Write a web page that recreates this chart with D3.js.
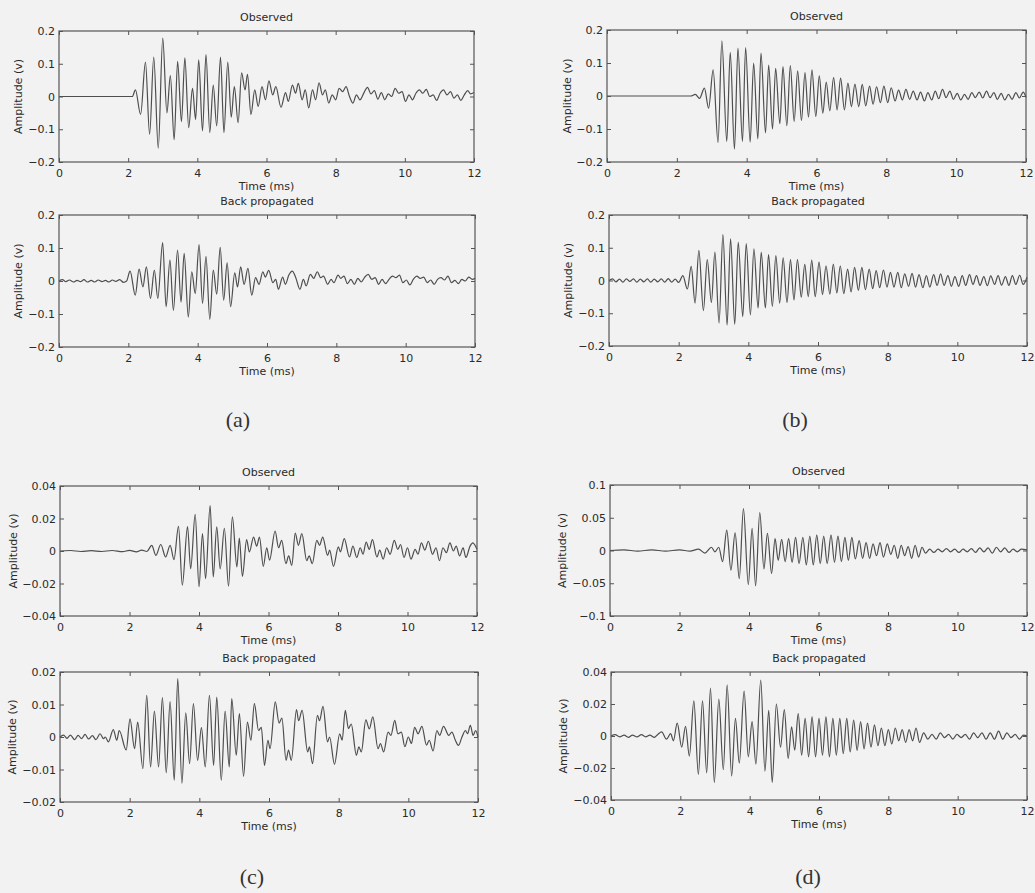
<!DOCTYPE html>
<html><head><meta charset="utf-8">
<script src="https://cdn.jsdelivr.net/npm/d3@7"></script>
<style>html,body{margin:0;padding:0;background:#f2f2f2;}svg{display:block;}</style>
</head><body>
<svg id="chart" width="1035" height="893"></svg>
<script>
// ---------------- DATA (extrema: [time ms, amplitude V]) ----------------
const timeTicks = [0, 2, 4, 6, 8, 10, 12];
const yTicksAB = [-0.2, -0.1, 0, 0.1, 0.2];
const yTicksCobs = [-0.04, -0.02, 0, 0.02, 0.04];
const yTicksCbp = [-0.02, -0.01, 0, 0.01, 0.02];
const yTicksDobs = [-0.1, -0.05, 0, 0.05, 0.1];
const yTicksDbp = [-0.04, -0.02, 0, 0.02, 0.04];
const subTitles = ["Observed", "Back propagated"];
const panelLabels = ["(a)", "(b)", "(c)", "(d)"];
const xLabel = "Time (ms)";
const yLabel = "Amplitude (v)";

const obsA = [[0,0],[2.12,0],[2.21,0.02],[2.36,-0.055],[2.5,0.105],[2.62,-0.115],[2.74,0.12],[2.87,-0.158],[3.0,0.178],[3.12,-0.05],[3.22,0.064],[3.33,-0.132],[3.43,0.107],[3.54,-0.077],[3.64,0.118],[3.75,-0.095],[3.86,0.025],[3.95,-0.07],[4.04,0.112],[4.15,-0.105],[4.25,0.128],[4.36,-0.11],[4.46,0.035],[4.56,-0.09],[4.67,0.12],[4.77,-0.11],[4.88,0.105],[4.98,-0.063],[5.07,0.03],[5.18,-0.08],[5.28,0.072],[5.38,0.02],[5.45,0.068],[5.55,-0.055],[5.66,0.02],[5.76,-0.03],[5.87,0.03],[5.97,-0.01],[6.07,0.048],[6.18,0.005],[6.27,0.03],[6.42,-0.033],[6.55,0.012],[6.63,-0.015],[6.75,0.035],[6.84,0.01],[6.92,0.04],[7.03,-0.01],[7.12,0.02],[7.22,-0.035],[7.33,0.02],[7.42,-0.01],[7.52,0.042],[7.62,0.005],[7.7,0.02],[7.8,-0.02],[7.9,0.005],[8.0,-0.01],[8.1,0.025],[8.2,0.015],[8.3,0.03],[8.4,0.0],[8.5,-0.02],[8.6,0.005],[8.7,-0.01],[8.82,0.012],[8.92,0.028],[9.02,0.008],[9.12,0.018],[9.22,-0.008],[9.32,0.012],[9.42,-0.01],[9.52,0.008],[9.62,0.0],[9.72,0.025],[9.82,0.01],[9.92,0.015],[10.02,-0.015],[10.12,0.005],[10.22,-0.01],[10.32,0.01],[10.42,0.02],[10.52,0.01],[10.62,0.022],[10.72,0.0],[10.82,0.005],[10.92,-0.012],[11.02,0.01],[11.12,0.02],[11.22,0.005],[11.32,0.015],[11.42,-0.005],[11.52,0.005],[11.62,-0.012],[11.72,0.005],[11.82,0.018],[11.9,0.008],[12,0.012]];

const bpA = [[0,0],[0.1,0.004],[0.2,-0.002],[0.3,0.003],[0.42,-0.003],[0.52,0.002],[0.62,-0.002],[0.72,0.004],[0.82,-0.003],[0.93,0.002],[1.03,-0.003],[1.13,0.003],[1.24,-0.002],[1.34,0.002],[1.44,-0.003],[1.54,0.003],[1.64,-0.001],[1.75,0.004],[1.86,-0.004],[1.95,0.0],[2.05,0.03],[2.2,-0.043],[2.31,0.036],[2.42,-0.018],[2.52,0.043],[2.64,-0.053],[2.75,0.033],[2.85,-0.053],[2.99,0.116],[3.09,-0.078],[3.2,0.063],[3.3,-0.089],[3.42,0.094],[3.52,-0.064],[3.61,0.084],[3.73,-0.109],[3.83,0.028],[3.93,-0.038],[4.04,0.11],[4.14,-0.068],[4.24,0.075],[4.35,-0.116],[4.45,0.033],[4.55,-0.04],[4.65,0.102],[4.75,-0.058],[4.85,0.055],[4.95,-0.078],[5.07,0.025],[5.15,-0.018],[5.24,0.043],[5.34,-0.01],[5.45,0.038],[5.56,-0.043],[5.67,0.01],[5.77,-0.01],[5.88,0.028],[5.95,0.012],[6.05,0.032],[6.17,-0.005],[6.25,0.005],[6.33,-0.025],[6.45,0.012],[6.53,-0.01],[6.63,0.018],[6.73,0.03],[6.83,0.01],[6.95,-0.025],[7.05,0.005],[7.13,-0.015],[7.25,0.02],[7.35,0.008],[7.45,0.028],[7.55,0.01],[7.63,0.015],[7.75,-0.01],[7.85,0.005],[7.93,-0.005],[8.05,0.018],[8.13,0.008],[8.22,0.015],[8.32,-0.008],[8.42,0.005],[8.52,-0.01],[8.62,0.008],[8.72,-0.003],[8.82,0.012],[8.92,0.02],[9.02,0.005],[9.12,0.01],[9.22,-0.01],[9.32,0.005],[9.42,-0.008],[9.52,0.005],[9.62,0.015],[9.72,0.01],[9.82,0.018],[9.92,-0.005],[10.02,0.003],[10.12,-0.012],[10.22,0.005],[10.32,0.015],[10.42,0.008],[10.52,0.012],[10.62,-0.005],[10.72,0.003],[10.82,-0.01],[10.92,0.005],[11.02,0.01],[11.12,0.003],[11.22,0.015],[11.32,-0.005],[11.42,0.002],[11.52,-0.008],[11.62,0.005],[11.72,0.0],[11.82,0.012],[11.92,0.005],[12,0.008]];

const obsB = [[0,0],[2.4,0],[2.53,0.005],[2.65,-0.007],[2.79,0.024],[2.91,-0.037],[3.04,0.079],[3.18,-0.141],[3.29,0.167],[3.43,-0.138],[3.53,0.132],[3.65,-0.161],[3.75,0.145],[3.88,-0.138],[3.97,0.147],[4.1,-0.14],[4.2,0.1],[4.32,-0.13],[4.41,0.13],[4.54,-0.112],[4.63,0.094],[4.74,-0.1],[4.83,0.084],[4.95,-0.084],[5.04,0.089],[5.15,-0.09],[5.25,0.092],[5.36,-0.077],[5.46,0.076],[5.57,-0.074],[5.67,0.071],[5.77,-0.064],[5.87,0.079],[5.98,-0.062],[6.08,0.061],[6.18,-0.052],[6.28,0.042],[6.38,-0.045],[6.49,0.056],[6.59,-0.042],[6.69,0.054],[6.8,-0.042],[6.9,0.039],[7.0,-0.032],[7.1,0.036],[7.21,-0.032],[7.31,0.035],[7.41,-0.03],[7.52,0.03],[7.62,-0.025],[7.72,0.028],[7.83,-0.02],[7.93,0.03],[8.04,-0.02],[8.14,0.025],[8.25,-0.015],[8.35,0.018],[8.46,-0.012],[8.56,0.02],[8.67,-0.01],[8.77,0.015],[8.88,-0.012],[8.98,0.012],[9.09,-0.015],[9.19,0.01],[9.3,-0.012],[9.4,0.015],[9.5,-0.008],[9.61,0.02],[9.71,-0.005],[9.82,0.015],[9.92,-0.01],[10.03,0.008],[10.13,-0.012],[10.24,0.005],[10.34,-0.01],[10.45,0.01],[10.55,-0.005],[10.66,0.012],[10.76,-0.006],[10.87,0.015],[10.97,-0.005],[11.08,0.01],[11.18,-0.01],[11.29,0.008],[11.39,-0.012],[11.5,0.005],[11.6,-0.01],[11.71,0.01],[11.81,-0.006],[11.92,0.012],[12,-0.004]];

const bpB = [[0,0],[0.1,0.005],[0.2,-0.004],[0.3,0.004],[0.4,-0.005],[0.5,0.005],[0.6,-0.003],[0.7,0.005],[0.8,-0.005],[0.9,0.004],[1.0,-0.004],[1.1,0.005],[1.2,-0.005],[1.3,0.004],[1.4,-0.004],[1.5,0.005],[1.6,-0.005],[1.7,0.006],[1.8,-0.005],[1.9,0.004],[2.0,-0.006],[2.12,0.015],[2.25,-0.026],[2.36,0.043],[2.47,-0.069],[2.58,0.092],[2.71,-0.092],[2.82,0.064],[2.94,-0.067],[3.04,0.087],[3.16,-0.13],[3.27,0.14],[3.39,-0.136],[3.49,0.127],[3.61,-0.134],[3.71,0.117],[3.84,-0.11],[3.94,0.113],[4.06,-0.105],[4.16,0.097],[4.28,-0.084],[4.37,0.086],[4.49,-0.084],[4.58,0.079],[4.69,-0.079],[4.79,0.076],[4.9,-0.069],[5.0,0.069],[5.11,-0.067],[5.21,0.064],[5.31,-0.059],[5.41,0.064],[5.52,-0.051],[5.62,0.049],[5.72,-0.049],[5.82,0.062],[5.92,-0.049],[6.03,0.056],[6.13,-0.043],[6.23,0.045],[6.34,-0.042],[6.44,0.05],[6.54,-0.038],[6.64,0.045],[6.74,-0.04],[6.85,0.035],[6.95,-0.035],[7.05,0.04],[7.16,-0.03],[7.26,0.04],[7.36,-0.028],[7.47,0.035],[7.57,-0.025],[7.67,0.03],[7.77,-0.022],[7.88,0.032],[7.98,-0.02],[8.08,0.025],[8.18,-0.02],[8.29,0.025],[8.39,-0.022],[8.49,0.02],[8.6,-0.018],[8.7,0.022],[8.8,-0.02],[8.9,0.018],[9.01,-0.022],[9.11,0.015],[9.21,-0.02],[9.32,0.018],[9.42,-0.015],[9.52,0.02],[9.62,-0.015],[9.73,0.015],[9.83,-0.018],[9.93,0.012],[10.04,-0.018],[10.14,0.015],[10.24,-0.015],[10.35,0.018],[10.45,-0.012],[10.55,0.015],[10.65,-0.015],[10.76,0.012],[10.86,-0.016],[10.96,0.014],[11.07,-0.012],[11.17,0.015],[11.27,-0.014],[11.38,0.012],[11.48,-0.015],[11.58,0.015],[11.68,-0.012],[11.79,0.016],[11.89,-0.012],[12,0.01]];

const obsC = [[0,0],[0.3,0.0003],[0.6,-0.0003],[0.9,0.0002],[1.2,-0.0003],[1.5,0.0003],[1.8,-0.0004],[2.0,0.0004],[2.2,-0.0005],[2.35,0.0006],[2.5,-0.0003],[2.64,0.0035],[2.76,-0.0027],[2.9,0.004],[3.04,-0.0037],[3.17,0.0035],[3.28,-0.0053],[3.41,0.0152],[3.52,-0.021],[3.67,0.015],[3.76,-0.011],[3.89,0.0226],[4.0,-0.022],[4.1,0.0107],[4.19,-0.017],[4.32,0.028],[4.41,-0.016],[4.51,0.0148],[4.61,-0.011],[4.73,0.014],[4.85,-0.0217],[4.96,0.021],[5.09,-0.0098],[5.16,0.008],[5.25,-0.0156],[5.37,0.007],[5.45,-0.0006],[5.57,0.0086],[5.66,0.003],[5.74,0.0085],[5.85,-0.0094],[5.95,0.002],[6.03,-0.0057],[6.19,0.0123],[6.29,0.002],[6.38,0.0066],[6.5,-0.0078],[6.58,-0.003],[6.67,-0.0088],[6.77,0.011],[6.86,0.0035],[6.96,0.0107],[7.1,-0.006],[7.17,-0.003],[7.26,-0.0078],[7.39,0.0066],[7.47,0.0035],[7.56,0.0086],[7.7,-0.0027],[7.76,0.0005],[7.87,-0.0094],[8.01,0.0025],[8.07,-0.0005],[8.18,0.0076],[8.33,-0.0037],[8.43,0.003],[8.54,-0.004],[8.64,0.002],[8.72,-0.002],[8.81,0.0055],[8.9,0.001],[8.99,0.007],[9.12,-0.0037],[9.2,0.0005],[9.3,-0.005],[9.4,0.002],[9.5,-0.002],[9.62,0.0065],[9.72,0.001],[9.8,0.004],[9.9,-0.004],[10.0,0.002],[10.1,-0.005],[10.22,0.001],[10.3,-0.002],[10.4,0.005],[10.5,0.0005],[10.6,0.006],[10.72,-0.002],[10.82,0.002],[10.92,-0.006],[11.02,0.002],[11.12,-0.001],[11.22,0.005],[11.32,0.0],[11.4,0.003],[11.5,-0.003],[11.6,0.002],[11.68,-0.004],[11.8,0.003],[11.88,0.005],[12,0.001]];

const bpC = [[0,0],[0.1,0.0006],[0.2,-0.0004],[0.3,0.0006],[0.42,-0.0008],[0.52,0.0005],[0.62,-0.0005],[0.72,0.0008],[0.82,-0.0006],[0.93,0.0004],[1.03,-0.0008],[1.15,0.001],[1.25,-0.0005],[1.3,0.0],[1.39,-0.0015],[1.53,0.0023],[1.63,-0.001],[1.7,0.002],[1.9,-0.004],[2.01,0.0056],[2.14,-0.0036],[2.23,0.0046],[2.38,-0.0097],[2.49,0.0128],[2.6,-0.0092],[2.71,0.008],[2.83,-0.0092],[2.94,0.0121],[3.05,-0.011],[3.16,0.0109],[3.28,-0.0133],[3.38,0.018],[3.5,-0.0142],[3.61,0.0074],[3.72,-0.0082],[3.83,0.0103],[3.95,-0.0072],[4.06,0.0029],[4.17,-0.0092],[4.29,0.0128],[4.41,-0.0087],[4.5,0.0123],[4.63,-0.0133],[4.74,0.008],[4.86,-0.0092],[4.93,0.0118],[5.06,-0.0056],[5.15,0.0072],[5.27,-0.0121],[5.38,0.0046],[5.48,-0.001],[5.58,0.0103],[5.7,0.002],[5.78,0.003],[5.87,-0.0087],[5.97,-0.001],[6.03,-0.0036],[6.18,0.0108],[6.29,0.0043],[6.37,0.0058],[6.49,-0.0072],[6.56,-0.004],[6.64,-0.0072],[6.79,0.0084],[6.85,0.005],[6.95,0.0082],[7.11,-0.0046],[7.16,-0.003],[7.25,-0.0082],[7.39,0.0067],[7.45,0.005],[7.55,0.0094],[7.68,-0.0015],[7.74,0.0],[7.88,-0.0084],[8.03,0.001],[8.1,-0.001],[8.19,0.0082],[8.28,0.0026],[8.36,0.004],[8.51,-0.0056],[8.58,-0.003],[8.65,-0.0046],[8.78,0.0053],[8.88,0.0025],[8.98,0.0062],[9.13,-0.0036],[9.2,-0.002],[9.29,-0.0046],[9.42,0.0015],[9.5,0.0005],[9.61,0.0051],[9.7,0.001],[9.8,0.0015],[9.9,-0.003],[10.0,0.0],[10.09,-0.002],[10.18,0.003],[10.28,0.001],[10.39,0.0033],[10.52,-0.0025],[10.6,-0.001],[10.71,-0.0043],[10.82,0.002],[10.9,0.0005],[11.01,0.0033],[11.16,0.0005],[11.25,0.0015],[11.35,-0.001],[11.44,-0.0026],[11.54,0.0],[11.64,0.002],[11.7,0.001],[11.78,0.0036],[11.86,0.0005],[11.93,0.002],[12,0.0]];

const obsD = [[0,0],[0.4,0.001],[0.8,-0.001],[1.2,0.001],[1.6,-0.001],[2.0,0.001],[2.3,-0.001],[2.55,0.002],[2.73,-0.004],[2.92,0.005],[3.02,-0.002],[3.13,0.005],[3.24,-0.017],[3.36,0.031],[3.48,-0.03],[3.6,0.027],[3.72,-0.043],[3.84,0.064],[3.98,-0.052],[4.09,0.034],[4.19,-0.054],[4.31,0.058],[4.43,-0.028],[4.53,0.026],[4.65,-0.035],[4.75,0.018],[4.84,-0.015],[4.94,0.017],[5.04,-0.017],[5.14,0.018],[5.24,-0.018],[5.34,0.02],[5.44,-0.02],[5.55,0.02],[5.65,-0.022],[5.75,0.022],[5.85,-0.022],[5.95,0.024],[6.05,-0.02],[6.15,0.022],[6.25,-0.02],[6.36,0.024],[6.46,-0.018],[6.56,0.022],[6.66,-0.017],[6.76,0.02],[6.86,-0.015],[6.96,0.02],[7.06,-0.013],[7.17,0.015],[7.27,-0.012],[7.37,0.012],[7.47,-0.012],[7.57,0.01],[7.67,-0.008],[7.77,0.012],[7.87,-0.01],[7.98,0.01],[8.08,-0.006],[8.18,0.008],[8.28,-0.012],[8.38,0.008],[8.48,-0.008],[8.58,0.006],[8.68,-0.012],[8.78,0.008],[8.88,-0.01],[8.98,0.005],[9.08,-0.004],[9.2,0.002],[9.32,-0.003],[9.44,0.002],[9.56,-0.002],[9.68,0.003],[9.8,-0.002],[9.92,0.002],[10.04,-0.003],[10.16,0.002],[10.28,-0.002],[10.4,0.003],[10.52,-0.003],[10.64,0.004],[10.76,-0.002],[10.88,0.004],[11.0,-0.004],[11.12,0.005],[11.24,-0.002],[11.36,0.004],[11.48,-0.003],[11.6,0.002],[11.72,-0.002],[11.84,0.002],[12,0.001]];

const bpD = [[0,0],[0.12,0.0008],[0.25,-0.0005],[0.38,0.0005],[0.5,-0.0008],[0.62,0.0006],[0.75,-0.0006],[0.88,0.0008],[1.0,-0.0005],[1.12,0.0006],[1.25,-0.0008],[1.35,0.001],[1.46,0.0026],[1.6,-0.002],[1.72,0.0015],[1.8,-0.003],[1.91,0.008],[2.04,-0.007],[2.15,0.006],[2.26,-0.0126],[2.39,0.022],[2.52,-0.024],[2.64,0.022],[2.76,-0.023],[2.87,0.03],[2.98,-0.029],[3.11,0.023],[3.24,-0.021],[3.35,0.032],[3.48,-0.025],[3.59,0.011],[3.7,-0.017],[3.84,0.028],[3.96,-0.013],[4.07,0.009],[4.18,-0.0176],[4.32,0.035],[4.44,-0.022],[4.55,0.016],[4.65,-0.029],[4.77,0.02],[4.89,-0.007],[5.0,0.0165],[5.11,-0.014],[5.21,0.0057],[5.3,-0.0088],[5.4,0.014],[5.5,-0.012],[5.6,0.011],[5.7,-0.013],[5.8,0.012],[5.9,-0.013],[6.0,0.011],[6.1,-0.012],[6.2,0.012],[6.3,-0.013],[6.4,0.011],[6.5,-0.012],[6.6,0.011],[6.7,-0.011],[6.8,0.011],[6.9,-0.01],[7.0,0.01],[7.1,-0.009],[7.2,0.009],[7.3,-0.008],[7.4,0.008],[7.5,-0.007],[7.6,0.007],[7.7,-0.006],[7.8,0.005],[7.9,-0.006],[8.0,0.004],[8.1,-0.005],[8.2,0.005],[8.3,-0.003],[8.4,0.004],[8.5,-0.004],[8.6,0.004],[8.7,-0.003],[8.8,0.005],[8.9,-0.004],[9.02,0.002],[9.14,-0.002],[9.26,0.001],[9.38,-0.002],[9.5,0.002],[9.62,-0.001],[9.74,0.001],[9.86,-0.002],[9.98,0.001],[10.1,-0.001],[10.22,0.001],[10.34,-0.002],[10.46,0.002],[10.58,-0.001],[10.7,0.002],[10.82,-0.002],[10.94,0.002],[11.06,-0.002],[11.18,0.003],[11.3,-0.002],[11.42,0.002],[11.54,-0.001],[11.66,0.001],[11.78,-0.002],[11.9,0.0005],[12,0.0]];

// ---------------- LAYOUT ----------------
const W = 1035, H = 893;
const svg = d3.select("#chart");
svg.append("rect").attr("width", W).attr("height", H).attr("fill", "#f2f2f2");

const panels = [
  {data: obsA, title: subTitles[0], x0: 59,  x1: 474,  y0: 31,  y1: 162, ticks: yTicksAB,   ylab: -41},
  {data: bpA,  title: subTitles[1], x0: 59,  x1: 475,  y0: 215, y1: 347, ticks: yTicksAB,   ylab: -41},
  {data: obsB, title: subTitles[0], x0: 607, x1: 1026, y0: 30,  y1: 162, ticks: yTicksAB,   ylab: -40},
  {data: bpB,  title: subTitles[1], x0: 609, x1: 1027, y0: 215, y1: 346, ticks: yTicksAB,   ylab: -41},
  {data: obsC, title: subTitles[0], x0: 60,  x1: 477,  y0: 486, y1: 616, ticks: yTicksCobs, ylab: -47},
  {data: bpC,  title: subTitles[1], x0: 60,  x1: 478,  y0: 672, y1: 802, ticks: yTicksCbp,  ylab: -48},
  {data: obsD, title: subTitles[0], x0: 610, x1: 1027, y0: 485, y1: 616, ticks: yTicksDobs, ylab: -48},
  {data: bpD,  title: subTitles[1], x0: 611, x1: 1027, y0: 672, y1: 800, ticks: yTicksDbp,  ylab: -48}
];

const FONT = "'DejaVu Sans', Verdana, sans-serif";
const TXT = "#2a2a2a";
const AX = "#555555";
const LINE = "#4e4e4e";
const fmt = d => d === 0 ? "0" : d3.format("")(d);

panels.forEach(p => {
  const x = d3.scaleLinear().domain([0, 12]).range([p.x0, p.x1]);
  const y = d3.scaleLinear().domain([p.ticks[0], p.ticks[p.ticks.length - 1]]).range([p.y1, p.y0]);
  const g = svg.append("g");

  const line = d3.line().x(d => x(d[0])).y(d => y(d[1])).curve(d3.curveMonotoneX);
  g.append("path").datum(p.data).attr("d", line)
    .attr("fill", "none").attr("stroke", LINE).attr("stroke-width", 1.2).attr("stroke-linejoin", "round");

  const styleAxis = sel => {
    sel.select(".domain").remove();
    sel.selectAll(".tick line").attr("stroke", AX);
    sel.selectAll("text").attr("fill", TXT).attr("font-family", FONT).attr("font-size", 11);
  };
  g.append("g").attr("transform", `translate(0,${p.y1})`)
    .call(d3.axisBottom(x).tickValues(timeTicks).tickSize(-4).tickPadding(7).tickFormat(d3.format("d")))
    .call(styleAxis);
  g.append("g").attr("transform", `translate(0,${p.y0})`)
    .call(d3.axisTop(x).tickValues(timeTicks).tickSize(-4).tickFormat(""))
    .call(styleAxis);
  g.append("g").attr("transform", `translate(${p.x0},0)`)
    .call(d3.axisLeft(y).tickValues(p.ticks).tickSize(-4).tickPadding(4).tickFormat(fmt))
    .call(styleAxis);
  g.append("g").attr("transform", `translate(${p.x1},0)`)
    .call(d3.axisRight(y).tickValues(p.ticks).tickSize(-4).tickFormat(""))
    .call(styleAxis);
  g.append("rect").attr("x", p.x0).attr("y", p.y0).attr("width", p.x1 - p.x0).attr("height", p.y1 - p.y0)
    .attr("fill", "none").attr("stroke", AX).attr("stroke-width", 1.2);

  const mx = (p.x0 + p.x1) / 2, my = (p.y0 + p.y1) / 2;
  g.append("text").attr("x", mx).attr("y", p.y0 - 10).attr("text-anchor", "middle")
    .attr("font-family", FONT).attr("font-size", 11).attr("fill", TXT).text(p.title);
  g.append("text").attr("x", mx).attr("y", p.y1 + 28).attr("text-anchor", "middle")
    .attr("font-family", FONT).attr("font-size", 11).attr("fill", TXT).text(xLabel);
  g.append("text").attr("transform", `translate(${p.x0 + p.ylab},${my}) rotate(-90)`)
    .attr("text-anchor", "middle").attr("dy", "0.35em")
    .attr("font-family", FONT).attr("font-size", 11).attr("fill", TXT).text(yLabel);
});

const labelPos = [{x: 238, y: 427}, {x: 795, y: 427}, {x: 252, y: 884}, {x: 808, y: 884}];
panelLabels.forEach((t, i) => {
  svg.append("text").attr("x", labelPos[i].x).attr("y", labelPos[i].y).attr("text-anchor", "middle")
    .attr("font-family", "'Liberation Serif', 'DejaVu Serif', serif").attr("font-size", 22)
    .attr("fill", "#333").text(t);
});
</script>
</body></html>
